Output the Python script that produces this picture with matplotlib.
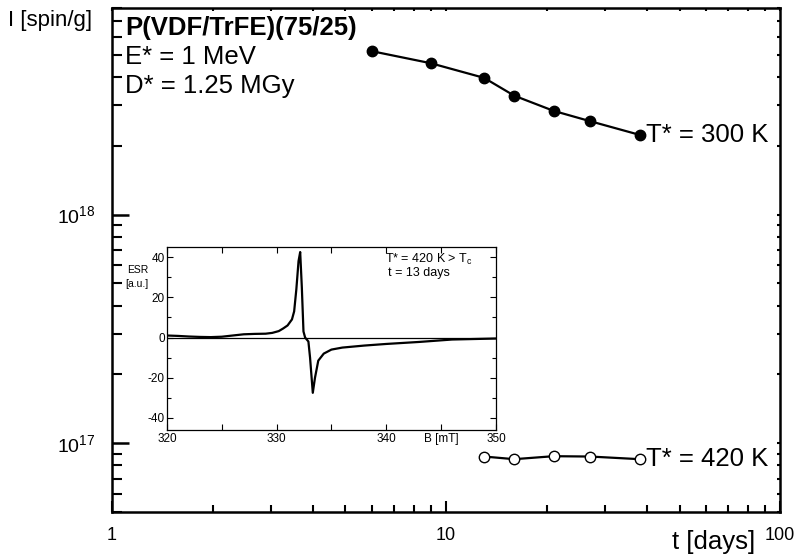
import numpy as np
import matplotlib
matplotlib.use('Agg')
import matplotlib.pyplot as plt
from matplotlib.ticker import LogLocator, NullFormatter, FixedLocator, MultipleLocator

plt.rcParams['font.family'] = ['Liberation Sans', 'DejaVu Sans']
plt.rcParams['mathtext.fontset'] = 'custom'
plt.rcParams['mathtext.rm'] = 'Liberation Sans'
plt.rcParams['mathtext.it'] = 'Liberation Sans'
plt.rcParams['axes.unicode_minus'] = False

# spin concentration vs storage time
t_300 = [6, 9, 13, 16, 21, 27, 38]
I_300 = [5.18e18, 4.59e18, 3.96e18, 3.31e18, 2.84e18, 2.56e18, 2.23e18]
t_420 = [13, 16, 21, 27, 38]
I_420 = [8.74e16, 8.51e16, 8.77e16, 8.74e16, 8.51e16]

# inset ESR spectrum (T* = 420 K, t = 13 days)
B_mT = [320, 321, 322, 323, 324, 325, 326, 327, 328, 329, 329.6, 330.2,
        330.6, 331.0, 331.4, 331.6, 331.8, 332.0, 332.15, 332.3, 332.45,
        332.6, 332.9, 333.05, 333.3, 333.5, 333.8, 334.3, 335, 336, 338,
        340, 343, 346, 350]
esr = [1.0, 0.8, 0.5, 0.3, 0.2, 0.4, 1.0, 1.6, 1.8, 1.9, 2.3, 3.2,
       4.5, 6.0, 9.0, 13, 24, 38, 42.5, 25, 3,
       0, -2, -10, -27.5, -20, -11.5, -8, -6, -5, -4,
       -3.2, -2.2, -1.0, -0.5]

fig = plt.figure(figsize=(7.95, 5.55), dpi=100)
pos = [0.1409, 0.0775, 0.8403, 0.908]
ax = fig.add_axes(pos)

ax.plot(t_300, I_300, '-o', color='k', lw=1.6, markersize=7.5)
ax.plot(t_420, I_420, '-o', color='k', lw=1.6, markersize=7.5,
        markerfacecolor='white', markeredgewidth=1.0)

ax.set_xscale('log')
ax.set_yscale('log')
ax.set_xlim(1, 100)
ax.set_ylim(5e16, 8e18)

ax.xaxis.set_minor_locator(LogLocator(base=10, subs=np.arange(2, 10)))
ax.yaxis.set_minor_locator(LogLocator(base=10, subs=np.arange(2, 10)))
ax.xaxis.set_minor_formatter(NullFormatter())
ax.yaxis.set_minor_formatter(NullFormatter())
ax.set_xticks([1, 10, 100])
ax.set_xticklabels(['1', '10', '100'])
ax.set_yticks([1e17, 1e18])
ax.set_yticklabels(['$10^{17}$', '$10^{18}$'])

for s in ax.spines.values():
    s.set_linewidth(1.8)
ax.tick_params(axis='y', which='major', direction='in', length=12, width=1.8,
               labelsize=14, pad=12)
ax.tick_params(axis='y', which='minor', direction='in', length=7, width=1.5)
ax.tick_params(axis='x', which='major', direction='in', length=8, width=1.5,
               labelsize=13, pad=11)
ax.tick_params(axis='x', which='minor', direction='in', length=5, width=1.5)

# small ticks on top and right spines
ax_tr = fig.add_axes(pos, sharex=ax, sharey=ax, frameon=False)
ax_tr.patch.set_visible(False)
ax_tr.tick_params(which='both', left=False, bottom=False, top=True, right=True,
                  labelleft=False, labelbottom=False, direction='in',
                  length=2.5, width=1.5)

ax.text(0.0195, 0.946, 'P(VDF/TrFE)(75/25)', transform=ax.transAxes,
        fontsize=18.5, fontweight='bold', va='baseline')
ax.text(0.0195, 0.889, 'E* = 1 MeV', transform=ax.transAxes,
        fontsize=18.5, va='baseline')
ax.text(0.0195, 0.831, 'D* = 1.25 MGy', transform=ax.transAxes,
        fontsize=18.5, va='baseline')
ax.text(t_300[-1] * 1.045, I_300[-1], 'T* = 300 K', fontsize=18.5, va='center')
ax.text(t_420[-1] * 1.045, I_420[-1], 'T* = 420 K', fontsize=18.5, va='center')

fig.text(8 / 795, 1 - 26 / 555, 'I [spin/g]', fontsize=16, va='baseline')
fig.text(672 / 795, 1 - 549 / 555, 't [days]', fontsize=18.5, va='baseline')

# inset
ins = fig.add_axes([0.210, 0.2252, 0.4138, 0.3297])
ins.plot(B_mT, esr, color='k', lw=1.6)
ins.axhline(0, color='k', lw=0.9)
ins.set_xlim(320, 350)
ins.set_ylim(-46, 45)
ins.xaxis.set_major_locator(FixedLocator([320, 325, 330, 335, 340, 345, 350]))
ins.set_xticklabels(['320', '', '330', '', '340', 'B [mT]', '350'])
ins.yaxis.set_major_locator(FixedLocator([-40, -20, 0, 20, 40]))
ins.yaxis.set_minor_locator(MultipleLocator(10))
for s in ins.spines.values():
    s.set_linewidth(0.9)
ins.tick_params(which='both', direction='in', top=True, right=True,
                labelsize=8.5, width=0.8)
ins.tick_params(which='major', length=4)
ins.tick_params(which='minor', length=3)
ins.tick_params(axis='y', pad=1.5)
ins.tick_params(axis='x', pad=2)
ins.text(0.664, 0.913, 'T* = 420 K > T$_\\mathrm{c}$', transform=ins.transAxes,
         fontsize=9, va='baseline')
ins.text(0.672, 0.843, 't = 13 days', transform=ins.transAxes,
         fontsize=9, va='baseline')
fig.text(127 / 795, 1 - 273 / 555, 'ESR', fontsize=7.5, va='baseline')
fig.text(125 / 795, 1 - 287 / 555, '[a.u.]', fontsize=7.5, va='baseline')

fig.savefig('out.png', dpi=100)
